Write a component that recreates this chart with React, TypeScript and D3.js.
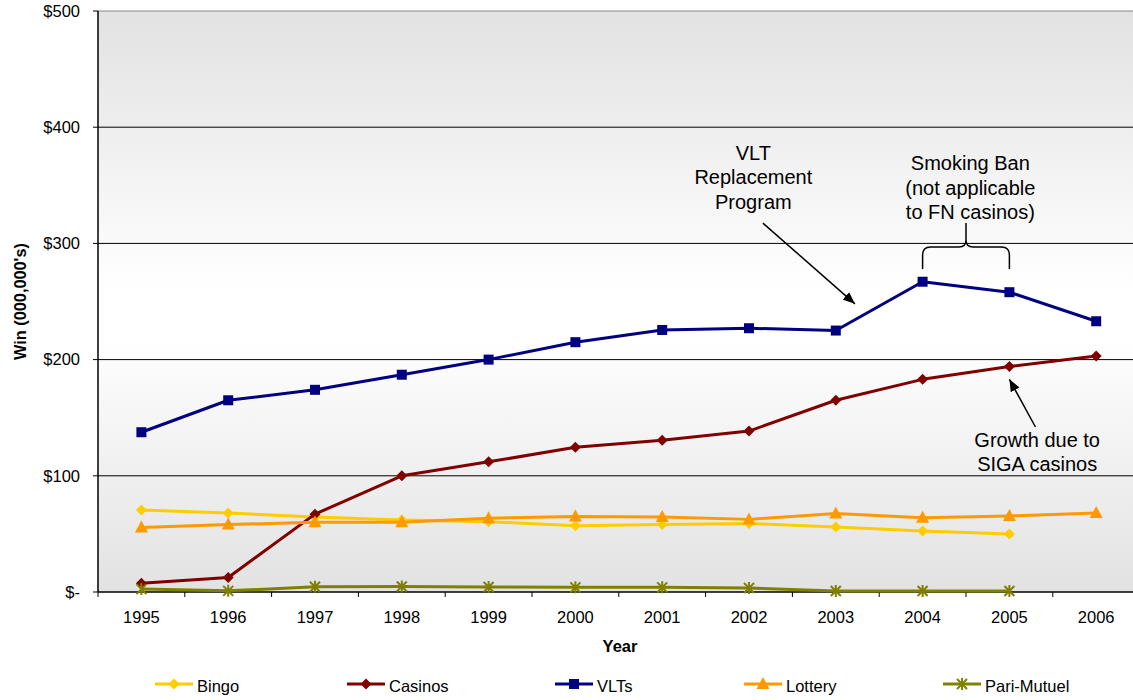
import React from "react";
import * as d3 from "d3";

const years = [1995, 1996, 1997, 1998, 1999, 2000, 2001, 2002, 2003, 2004, 2005, 2006];
const bingo = [70.5, 68, 64.5, 62, 60.5, 57, 58, 59, 56, 52.5, 50, null];
const casinos = [7.5, 12.5, 67, 100, 112, 124.5, 130.5, 138.5, 165, 183, 194, 203];
const vlts = [137.5, 165, 174, 187, 200, 215, 225.5, 227, 225, 267, 258, 233];
const lottery = [55.5, 58, 60, 60, 63.5, 65, 64.5, 62.5, 67.5, 64, 65.5, 68];
const pariMutuel = [2.5, 1, 4.5, 4.8, 4.3, 4, 4, 3.5, 0.8, 0.8, 0.8, null];
const yTicks = [0, 100, 200, 300, 400, 500];
const yTickLabels = ["$-", "$100", "$200", "$300", "$400", "$500"];

type Series = { name: string; values: (number | null)[]; color: string; marker: string };
const series: Series[] = [
  { name: "Bingo", values: bingo, color: "#FFCC00", marker: "diamond" },
  { name: "Casinos", values: casinos, color: "#800000", marker: "diamond" },
  { name: "VLTs", values: vlts, color: "#000080", marker: "square" },
  { name: "Lottery", values: lottery, color: "#FF9900", marker: "triangle" },
  { name: "Pari-Mutuel", values: pariMutuel, color: "#808000", marker: "star" },
];
const legendX = [155, 347, 555, 744, 943];

const FONT = '"Liberation Sans", Arial, Helvetica, sans-serif';

function Marker({ type, x, y, color }: { type: string; x: number; y: number; color: string }) {
  if (type === "diamond") {
    const r = 5.5;
    return <path d={`M${x},${y - r}L${x + r},${y}L${x},${y + r}L${x - r},${y}Z`} fill={color} />;
  }
  if (type === "square") {
    const r = 5;
    return <rect x={x - r} y={y - r} width={2 * r} height={2 * r} fill={color} />;
  }
  if (type === "triangle") {
    return <path d={`M${x},${y - 7}L${x + 6.5},${y + 5}L${x - 6.5},${y + 5}Z`} fill={color} />;
  }
  const r = 5;
  return (
    <path
      d={`M${x - r},${y - r}L${x + r},${y + r}M${x - r},${y + r}L${x + r},${y - r}M${x},${y - r - 1}L${x},${y + r + 1}`}
      stroke={color}
      strokeWidth={2}
    />
  );
}

export default function App() {
  const W = 1133;
  const H = 700;
  const left = 98;
  const top = 11;
  const bottom = 592;
  const step = 86.8;
  const x = d3.scaleBand<number>().domain(years).range([left, left + step * years.length]);
  const bw = x.bandwidth();
  const cx = (yr: number) => (x(yr) as number) + bw / 2;
  const xl = d3.scaleLinear().domain([1995, 2006]).range([cx(1995), cx(2006)]);
  const y = d3.scaleLinear().domain([0, 500]).range([bottom, top]);
  const right = left + step * years.length;

  const line = d3
    .line<[number, number | null]>()
    .defined((d) => d[1] !== null)
    .x((d) => cx(d[0]))
    .y((d) => y(d[1] as number));

  const annFont = 20;
  const ann1 = { x: 2002.05, y: 372, lines: ["VLT", "Replacement", "Program"] };
  const ann2 = { x: 2004.55, y: 363, lines: ["Smoking Ban", "(not applicable", "to FN casinos)"] };
  const ann3 = { x: 2005.32, y: 125, lines: ["Growth due to", "SIGA casinos"] };
  const arrow1 = { x1: 2002.16, y1: 317.5, x2: 2003.22, y2: 248 };
  const arrow2 = { x1: 2005.3, y1: 142, x2: 2005.0, y2: 183 };
  const brace = { x1: 2004.0, x2: 2005.0, yBottom: 278, yTop: 297, yStem: 317.5 };

  const bl = xl(brace.x1);
  const br = xl(brace.x2);
  const bm = (bl + br) / 2;
  const bb = y(brace.yBottom);
  const bt = y(brace.yTop);
  const bs = y(brace.yStem);
  const bracePath = `M${bl},${bb}L${bl},${bt + 8}Q${bl},${bt} ${bl + 8},${bt}L${bm - 7},${bt}Q${bm},${bt} ${bm},${bt - 7}L${bm},${bs}M${bm},${bt - 7}Q${bm},${bt} ${bm + 7},${bt}L${br - 8},${bt}Q${br},${bt} ${br},${bt + 8}L${br},${bb}`;

  const renderAnn = (a: { x: number; y: number; lines: string[] }) => (
    <text x={xl(a.x)} y={y(a.y)} textAnchor="middle" fontSize={annFont} fontFamily={FONT} fill="#000">
      {a.lines.map((l, i) => (
        <tspan key={i} x={xl(a.x)} dy={i === 0 ? 0 : 24.5}>
          {l}
        </tspan>
      ))}
    </text>
  );

  return (
    <svg width={W} height={H} style={{ position: "absolute", left: 0, top: 0, background: "#fff" }}>
      <defs>
        <linearGradient id="bg" x1="0" y1="0" x2="0" y2="1">
          <stop offset="0" stopColor="#e2e2e2" />
          <stop offset="0.48" stopColor="#ffffff" />
          <stop offset="0.56" stopColor="#ffffff" />
          <stop offset="1" stopColor="#e2e2e2" />
        </linearGradient>
        <marker id="arrow" viewBox="0 0 12 10" refX="12" refY="5" markerWidth="12" markerHeight="10" markerUnits="userSpaceOnUse" orient="auto">
          <path d="M0,0L12,5L0,10Z" fill="#000" />
        </marker>
      </defs>
      <rect x={left} y={top} width={right - left} height={bottom - top} fill="url(#bg)" />
      {yTicks.slice(1).map((t) => (
        <line key={t} x1={left} x2={right} y1={y(t)} y2={y(t)} stroke={t === 500 ? "#888" : "#000"} strokeWidth={1} />
      ))}
      {/* axes */}
      <line x1={left} x2={left} y1={top} y2={bottom} stroke="#000" strokeWidth={1.5} />
      <line x1={left} x2={right} y1={bottom} y2={bottom} stroke="#000" strokeWidth={1.5} />
      {yTicks.map((t, i) => (
        <g key={t}>
          <line x1={left - 5} x2={left} y1={y(t)} y2={y(t)} stroke="#000" />
          <text x={80} y={y(t)} dy="0.35em" textAnchor="end" fontSize={16.5} fontFamily={FONT}>
            {yTickLabels[i]}
          </text>
        </g>
      ))}
      {years.map((yr) => (
        <g key={yr}>
          <line x1={x(yr) as number} x2={x(yr) as number} y1={bottom} y2={bottom + 5} stroke="#000" />
          <text x={cx(yr)} y={623} textAnchor="middle" fontSize={16.5} fontFamily={FONT}>
            {yr}
          </text>
        </g>
      ))}
      <text
        transform={`translate(26,${(top + bottom) / 2}) rotate(-90)`}
        textAnchor="middle"
        fontSize={16.3}
        fontWeight="bold"
        fontFamily={FONT}
      >
        Win (000,000's)
      </text>
      <text x={620} y={652} textAnchor="middle" fontSize={16.5} fontWeight="bold" fontFamily={FONT}>
        Year
      </text>
      {/* series */}
      {series.map((s) => {
        const pts = years.map((yr, i) => [yr, s.values[i]] as [number, number | null]);
        return (
          <g key={s.name}>
            <path d={line(pts) || ""} fill="none" stroke={s.color} strokeWidth={3} strokeLinejoin="round" />
            {pts
              .filter((p) => p[1] !== null)
              .map((p) => (
                <Marker key={p[0]} type={s.marker} x={cx(p[0])} y={y(p[1] as number)} color={s.color} />
              ))}
          </g>
        );
      })}
      {/* annotations */}
      {renderAnn(ann1)}
      {renderAnn(ann2)}
      {renderAnn(ann3)}
      <line x1={xl(arrow1.x1)} y1={y(arrow1.y1)} x2={xl(arrow1.x2)} y2={y(arrow1.y2)} stroke="#000" strokeWidth={1.5} markerEnd="url(#arrow)" />
      <line x1={xl(arrow2.x1)} y1={y(arrow2.y1)} x2={xl(arrow2.x2)} y2={y(arrow2.y2)} stroke="#000" strokeWidth={1.5} markerEnd="url(#arrow)" />
      <path d={bracePath} fill="none" stroke="#000" strokeWidth={1.5} />
      {/* legend */}
      {series.map((s, i) => (
        <g key={s.name}>
          <line x1={legendX[i]} x2={legendX[i] + 38} y1={684} y2={684} stroke={s.color} strokeWidth={3} />
          <Marker type={s.marker} x={legendX[i] + 19} y={684} color={s.color} />
          <text x={legendX[i] + 42} y={692} fontSize={16.5} fontFamily={FONT}>
            {s.name}
          </text>
        </g>
      ))}
    </svg>
  );
}
